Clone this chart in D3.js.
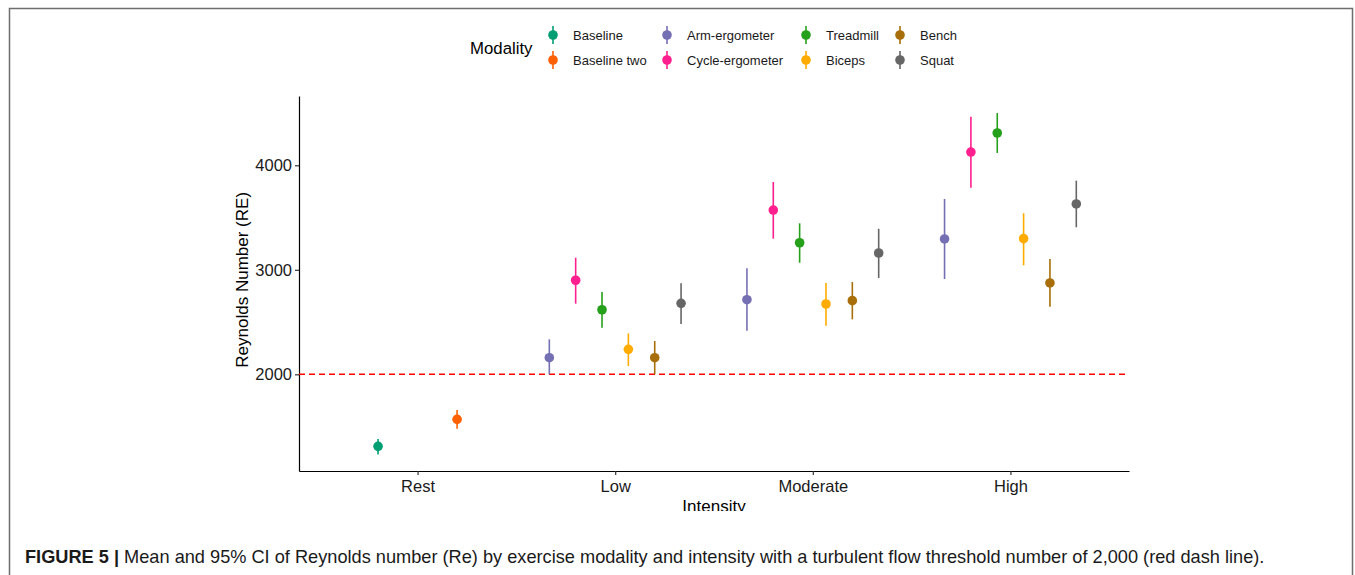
<!DOCTYPE html>
<html>
<head>
<meta charset="utf-8">
<script src="https://cdn.jsdelivr.net/npm/d3@7"></script>
<style>
  body { margin: 0; background: #fff; }
  text { font-family: "Liberation Sans", Arial, sans-serif; }
</style>
</head>
<body>
<div id="chart-area"></div>
<script>
// data
var intensities = ["Rest", "Low", "Moderate", "High"];
var modalities = ["Baseline", "Baseline two", "Arm-ergometer", "Cycle-ergometer", "Treadmill", "Biceps", "Bench", "Squat"];
var colors = ["#009e73", "#ff6100", "#7570b3", "#ff1f8e", "#25a01a", "#ffab00", "#a86e0a", "#666666"];

var restModalities = ["Baseline", "Baseline two"];
var restMean = [1311, 1569];
var restLow  = [1234, 1480];
var restHigh = [1381, 1658];

var exModalities = ["Arm-ergometer", "Cycle-ergometer", "Treadmill", "Biceps", "Bench", "Squat"];
var lowMean = [2159, 2900, 2618, 2239, 2159, 2679];
var lowLow  = [2000, 2676, 2446, 2079, 2000, 2481];
var lowHigh = [2335, 3116, 2788, 2392, 2319, 2871];
var modMean = [2714, 3572, 3259, 2673, 2705, 3161];
var modLow  = [2417, 3298, 3068, 2465, 2526, 2922];
var modHigh = [3014, 3840, 3445, 2874, 2883, 3393];
var highMean = [3295, 4127, 4309, 3298, 2874, 3630];
var highLow  = [2912, 3786, 4118, 3043, 2647, 3407];
var highHigh = [3678, 4465, 4500, 3541, 3103, 3853];

var yTicks = [2000, 3000, 4000];
var threshold = 2000;

var W = 1355, H = 575;
var margin = { left: 299, right: 226, top: 96, bottom: 104 };
var width = W - margin.left - margin.right,
    height = H - margin.top - margin.bottom;

var svg = d3.select("#chart-area")
    .append("svg")
        .attr("width", W)
        .attr("height", H);

// outer frame
svg.append("path")
    .attr("d", "M9.5," + H + "V8.5H1352.5V" + H)
    .attr("fill", "none")
    .attr("stroke", "#6e6e6e")
    .attr("stroke-width", 1.5);

var g = svg.append("g")
    .attr("transform", "translate(" + margin.left + "," + margin.top + ")");

var x = d3.scalePoint()
    .domain(intensities)
    .range([0, width])
    .padding(0.6);

var y = d3.scaleLinear()
    .domain([1075, 4663])
    .range([height, 0]);

var color = d3.scaleOrdinal().domain(modalities).range(colors);

// build rows, dodged like ggplot (width 0.8)
var rows = [];
function addGroup(level, mods, mean, lo, hi) {
    var n = mods.length;
    var dw = 0.8 * x.step();
    mods.forEach((m, i) => {
        rows.push({
            intensity: level, modality: m,
            mean: mean[i], lo: lo[i], hi: hi[i],
            off: (i - (n - 1) / 2) * dw / n
        });
    });
}
addGroup("Rest", restModalities, restMean, restLow, restHigh);
addGroup("Low", exModalities, lowMean, lowLow, lowHigh);
addGroup("Moderate", exModalities, modMean, modLow, modHigh);
addGroup("High", exModalities, highMean, highLow, highHigh);

// axes
var xAxisCall = d3.axisBottom(x).tickSizeInner(4).tickSizeOuter(0).tickPadding(5);
var xAxis = g.append("g")
    .attr("transform", "translate(0," + height + ")")
    .call(xAxisCall);
xAxis.select(".domain").attr("stroke", "#000").attr("stroke-width", 1.2);
xAxis.selectAll(".tick line").attr("stroke", "#333").attr("stroke-width", 1.2);
xAxis.selectAll("text").attr("font-size", "16.5px").attr("fill", "#1a1a1a")
    .style("font-family", "'Liberation Sans', Arial, sans-serif");

var yAxisCall = d3.axisLeft(y).tickValues(yTicks).tickFormat(d3.format("d"))
    .tickSizeInner(4).tickSizeOuter(0).tickPadding(3);
var yAxis = g.append("g").call(yAxisCall);
yAxis.select(".domain").attr("stroke", "#000").attr("stroke-width", 1.2);
yAxis.selectAll(".tick line").attr("stroke", "#333").attr("stroke-width", 1.2);
yAxis.selectAll("text").attr("font-size", "16.5px").attr("fill", "#1a1a1a")
    .style("font-family", "'Liberation Sans', Arial, sans-serif");

// axis labels
g.append("text")
    .attr("x", -(y(3000) + 10))
    .attr("y", -51)
    .attr("transform", "rotate(-90)")
    .attr("text-anchor", "middle")
    .attr("font-size", "17px")
    .text("Reynolds Number (RE)");

svg.append("clipPath").attr("id", "xclip")
    .append("rect").attr("x", 0).attr("y", 0).attr("width", W).attr("height", 511);
svg.append("text")
    .attr("clip-path", "url(#xclip)")
    .attr("x", margin.left + width / 2)
    .attr("y", 512)
    .attr("text-anchor", "middle")
    .attr("font-size", "17px")
    .text("Intensity");

// threshold line
g.append("line")
    .attr("x1", 0).attr("x2", width)
    .attr("y1", y(threshold)).attr("y2", y(threshold))
    .attr("stroke", "#ff0000")
    .attr("stroke-width", 1.5)
    .attr("stroke-dasharray", "6,4");

// error bars and points
var pts = g.selectAll(".pt").data(rows).enter().append("g").attr("class", "pt");
pts.append("line")
    .attr("x1", d => x(d.intensity) + d.off)
    .attr("x2", d => x(d.intensity) + d.off)
    .attr("y1", d => y(d.lo))
    .attr("y2", d => y(d.hi))
    .attr("stroke", d => color(d.modality))
    .attr("stroke-width", 1.6);
pts.append("circle")
    .attr("cx", d => x(d.intensity) + d.off)
    .attr("cy", d => y(d.mean))
    .attr("r", 4.8)
    .attr("fill", d => color(d.modality));

// legend
var leg = svg.append("g");
leg.append("text")
    .attr("x", 470).attr("y", 54)
    .attr("font-size", "16.8px")
    .text("Modality");

var legX = [553, 667, 806, 900];
modalities.forEach((m, i) => {
    var col = Math.floor(i / 2), row = i % 2;
    var kx = legX[col], ky = 35 + row * 25;
    leg.append("line")
        .attr("x1", kx).attr("x2", kx)
        .attr("y1", ky - 9).attr("y2", ky + 9)
        .attr("stroke", color(m)).attr("stroke-width", 1.6);
    leg.append("circle")
        .attr("cx", kx).attr("cy", ky).attr("r", 4.8)
        .attr("fill", color(m));
    leg.append("text")
        .attr("x", kx + 20).attr("y", ky + 4.5)
        .attr("font-size", "13px")
        .attr("fill", "#1a1a1a")
        .text(m);
});

// caption
var cap = svg.append("text")
    .attr("x", 25).attr("y", 563)
    .attr("font-size", "18.2px")
    .attr("fill", "#1a1a1a");
cap.append("tspan").attr("font-weight", "bold").text("FIGURE 5 | ");
cap.append("tspan").text("Mean and 95% CI of Reynolds number (Re) by exercise modality and intensity with a turbulent flow threshold number of 2,000 (red dash line).");
</script>
</body>
</html>
